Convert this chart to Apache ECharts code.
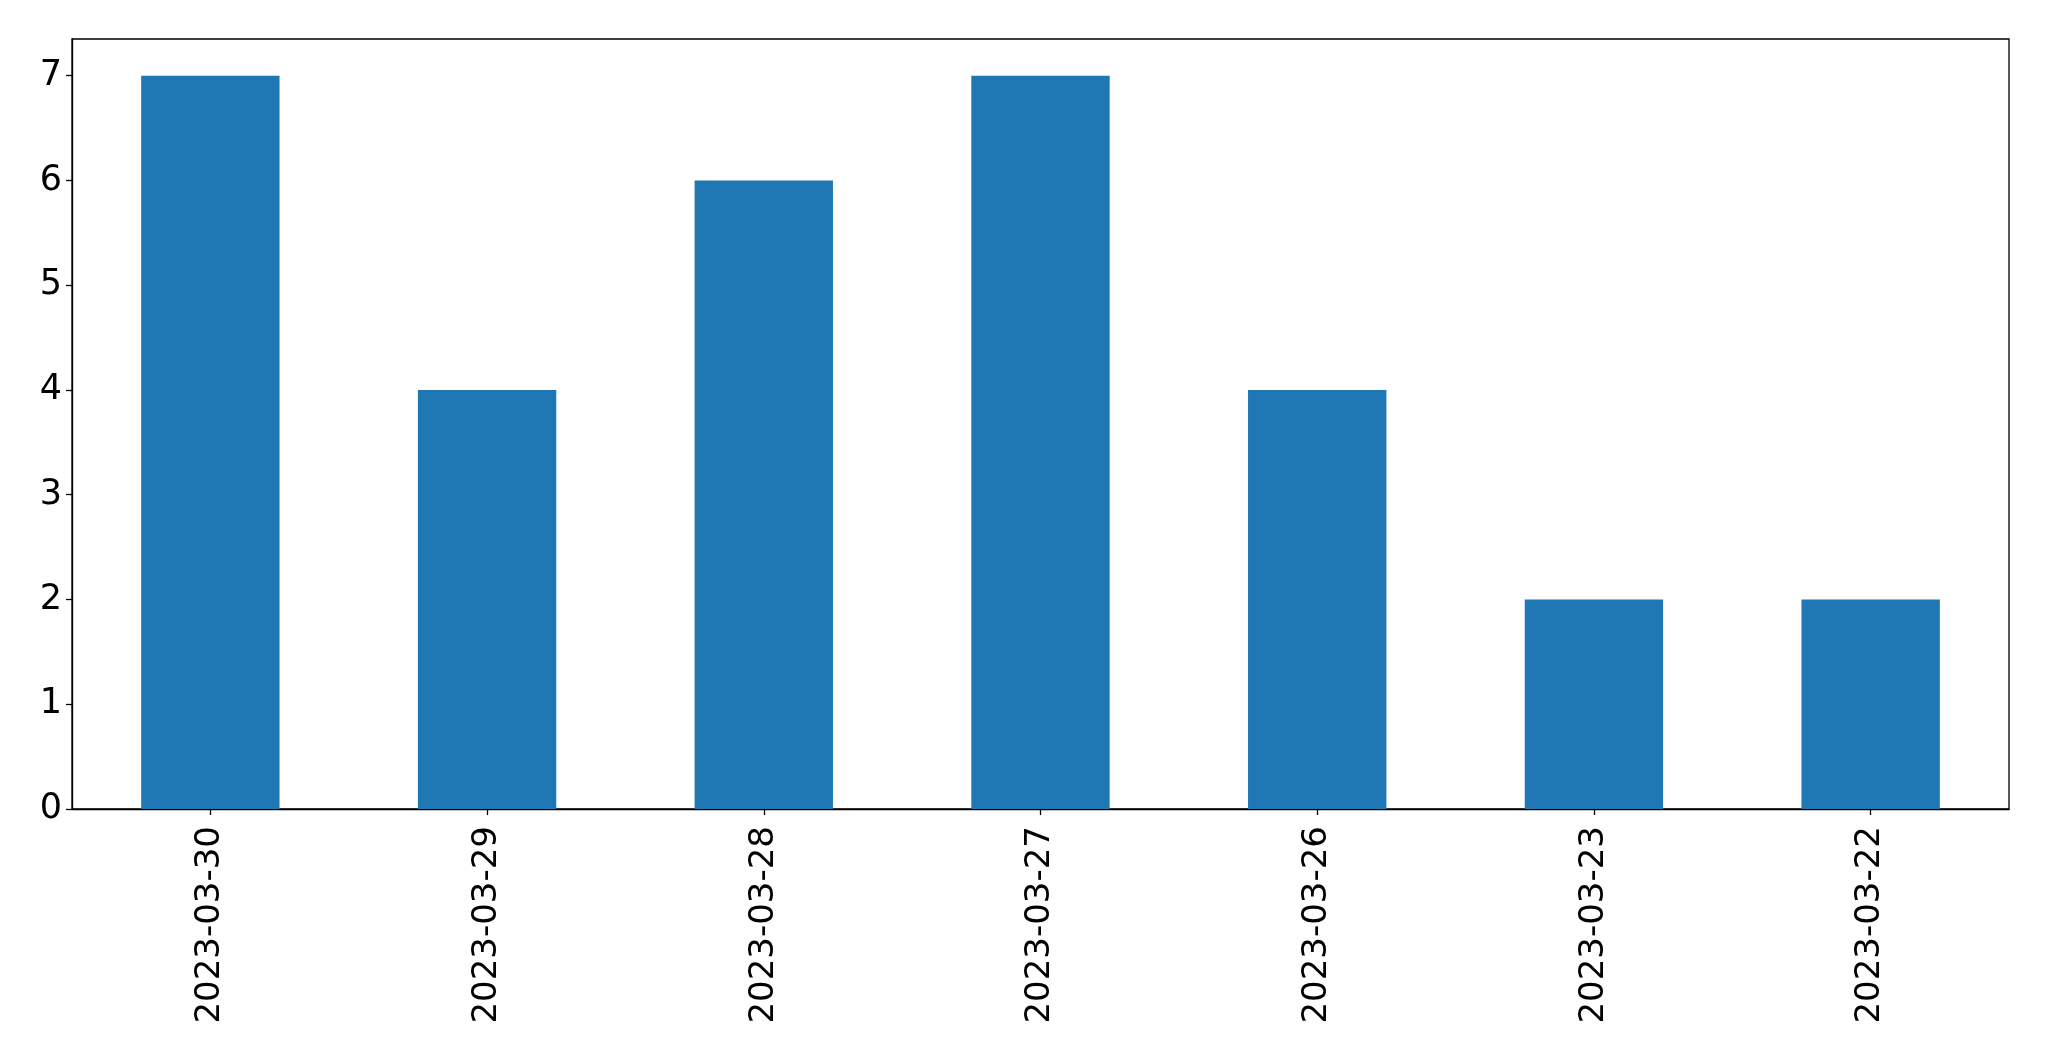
<!DOCTYPE html>
<html>
<head>
<meta charset="utf-8">
<script src="https://cdn.jsdelivr.net/npm/echarts@6/dist/echarts.min.js"></script>
<style>html,body{margin:0;padding:0;background:#fff;}#c{width:2049px;height:1061px;}</style>
</head>
<body>
<div id="c"></div>
<script>
const categories = ['2023-03-30','2023-03-29','2023-03-28','2023-03-27','2023-03-26','2023-03-23','2023-03-22'];
const values = [7, 4, 6, 7, 4, 2, 2];
const yTicks = [0, 1, 2, 3, 4, 5, 6, 7];

const chart = echarts.init(document.getElementById('c'), null, {renderer: 'canvas'});
const font = 'DejaVu Sans';
chart.setOption({
  animation: false,
  backgroundColor: '#fff',
  grid: {left: 72, right: 40, top: 39, bottom: 252, show: true, borderColor: '#000', borderWidth: 1.3, backgroundColor: 'transparent'},
  xAxis: {
    type: 'category',
    data: categories,
    axisLine: {show: true, lineStyle: {color: '#000', width: 1.3}},
    axisTick: {show: true, alignWithLabel: true, length: 6, lineStyle: {color: '#000', width: 1.3}},
    axisLabel: {rotate: 90, fontFamily: font, fontSize: 34, color: '#000', margin: 17, interval: 0}
  },
  yAxis: {
    type: 'value',
    min: 0, max: 7.35, interval: 1,
    splitLine: {show: false},
    axisLine: {show: true, lineStyle: {color: '#000', width: 1.3}},
    axisTick: {show: true, length: 6, lineStyle: {color: '#000', width: 1.3}, customValues: yTicks},
    axisLabel: {fontFamily: font, fontSize: 35, color: '#000', margin: 10, customValues: yTicks,
      padding: [7, 0, 0, 0],
      formatter: v => (Number.isInteger(v) ? String(v) : '')}
  },
  series: [{
    type: 'bar',
    data: values,
    barWidth: '50%',
    itemStyle: {color: '#1f77b4'}
  }]
});
</script>
</body>
</html>
